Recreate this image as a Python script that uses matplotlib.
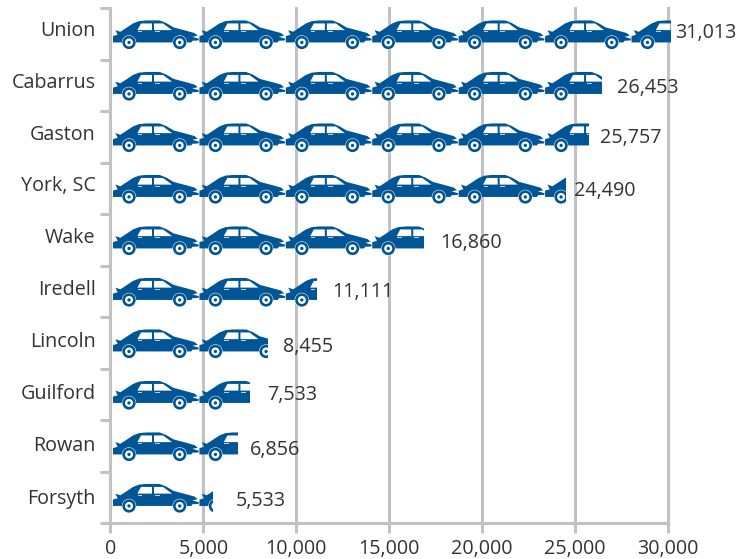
import numpy as np
import matplotlib
matplotlib.use("Agg")
import matplotlib.pyplot as plt
from matplotlib.patches import Polygon, Ellipse, Rectangle

plt.rcParams["font.family"] = ["Open Sans", "DejaVu Sans"]

# data
counties = ["Union", "Cabarrus", "Gaston", "York, SC", "Wake", "Iredell",
            "Lincoln", "Guilford", "Rowan", "Forsyth"]
commuters = [31013, 26453, 25757, 24490, 16860, 11111, 8455, 7533, 6856, 5533]
x_ticks = [0, 5000, 10000, 15000, 20000, 25000, 30000]

# hand placed labels in the original, so they do not sit on a regular offset
value_label_x = [30360, 27280, 26350, 24950, 17750, 11940, 9290, 8420, 7500, 6750]
value_label_y = [0.49, 1.55, 2.53, 3.56, 4.57, 5.52, 6.58, 7.52, 8.58, 9.58]
name_label_y = [0.44, 1.45, 2.46, 3.46, 4.47, 5.48, 6.49, 7.50, 8.51, 9.53]

BLUE = "#005596"
GREY = "#c1c1c6"
TEXT = "#333333"
FONT_SIZE = 14.2

# car glyph, outlined from the reference at 3x zoom
BODY = [(40, 95), (40, 76), (54, 72), (47, 58), (62, 63), (82, 50), (100, 38),
        (118, 31), (140, 29), (180, 29), (200, 37), (222, 50), (260, 60),
        (285, 67), (294, 75), (278, 78), (298, 84), (296, 89), (278, 90),
        (275, 95)]
WINDOWS = [[(113, 58), (124, 38), (157, 38), (157, 58)],
           [(163, 38), (190, 38), (217, 58), (163, 58)]]
TRIMS = [[(115, 62), (128, 62), (128, 64), (115, 64)],
         [(165, 62), (180, 62), (180, 64), (165, 64)]]
WHEELS = [88, 240]
CAR_X0, CAR_Y0 = 40, 72
PX_X = 1000 / 18.58   # data units per image pixel
PX_Y = 1 / 51.5
CAR_STEP = 4650
CAR_START = 135
CLIP_MAX = 30160

fig = plt.figure(figsize=(7.54, 5.59), dpi=100)
ax = fig.add_axes([110.5 / 754, 36 / 559, 557.5 / 754, 515 / 559])
ax.set_xlim(0, 30000)
ax.set_ylim(10, 0)


def glyph_xy(points, start, center):
    pts = np.array(points, dtype=float)
    x = start + (pts[:, 0] - CAR_X0) / 3 * PX_X
    y = center + (pts[:, 1] - CAR_Y0) / 3 * PX_Y
    return np.column_stack([x, y])


def draw_car(start, center, clip):
    parts = [Polygon(glyph_xy(BODY, start, center), closed=True, fc=BLUE, ec="none", zorder=3)]
    for w in WINDOWS:
        parts.append(Polygon(glyph_xy(w, start, center), closed=True, fc="white", ec="none", zorder=4))
    for w in TRIMS:
        parts.append(Polygon(glyph_xy(w, start, center), closed=True, fc="#b8cfe0", ec="none", zorder=4))
    for wx in WHEELS:
        c = glyph_xy([(wx, 95)], start, center)[0]
        for r, col, z in [(21.5, "white", 3.5), (20, BLUE, 4), (12, "white", 5), (5, BLUE, 6)]:
            parts.append(Ellipse(c, 2 * r / 3 * PX_X, 2 * r / 3 * PX_Y, fc=col, ec="none", zorder=z))
    for p in parts:
        ax.add_patch(p)
        p.set_clip_path(clip)


for i, v in enumerate(commuters):
    center = i + 0.5 + 0.02
    clip = Rectangle((0, i), min(v, CLIP_MAX), 1, transform=ax.transData)
    start = CAR_START
    while start < min(v, CLIP_MAX):
        draw_car(start, center, clip)
        start += CAR_STEP
    ax.text(value_label_x[i], value_label_y[i], f"{v:,}", fontsize=FONT_SIZE, color=TEXT,
            ha="left", va="center", zorder=7)
    ax.text(-800, name_label_y[i], counties[i], fontsize=FONT_SIZE, color=TEXT,
            ha="right", va="center")

ax.set_xticks(x_ticks)
ax.set_xticklabels([f"{t:,}" for t in x_ticks], fontsize=FONT_SIZE, color=TEXT)
ax.set_yticks(range(11))
ax.set_yticklabels([])
ax.tick_params(axis="both", length=7.2, width=2.2, color=GREY)
ax.tick_params(axis="x", pad=4.5)
ax.xaxis.grid(True, color=GREY, lw=2.2, zorder=1)
ax.set_axisbelow(True)
for gl in ax.get_xgridlines():
    gl.set_clip_on(False)
for s in ["top", "right"]:
    ax.spines[s].set_visible(False)
for s in ["left", "bottom"]:
    ax.spines[s].set_color(GREY)
    ax.spines[s].set_linewidth(2.2)

fig.savefig("out.png", dpi=100)
